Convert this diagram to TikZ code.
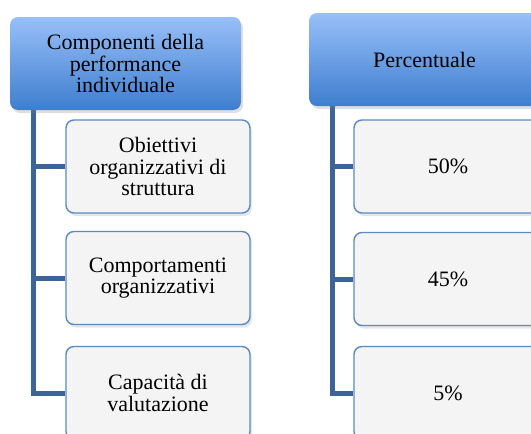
\documentclass[tikz,border=0pt]{standalone}
\usepackage{fontspec}
\setmainfont{Liberation Serif}
\usetikzlibrary{shadows}
\definecolor{headtop}{HTML}{98BFF8}
\definecolor{headbot}{HTML}{3E7ECF}
\definecolor{boxfill}{HTML}{F4F4F4}
\definecolor{boxline}{HTML}{5B89C6}
\definecolor{trunk}{HTML}{3D6498}
\begin{document}
\begin{tikzpicture}[x=1pt,y=-1pt,
  txt/.style={font=\fontsize{22}{21.5}\selectfont, align=center, inner sep=0pt},
  head/.style={txt, rounded corners=8pt, top color=headtop, bottom color=headbot,
    minimum width=231pt, minimum height=93pt,
    drop shadow={opacity=0.25, shadow xshift=2pt, shadow yshift=-3pt}},
  item/.style={txt, rounded corners=8pt, fill=boxfill, draw=boxline, line width=1.4pt,
    minimum height=93pt,
    drop shadow={opacity=0.2, shadow xshift=2pt, shadow yshift=-3pt}},
  link/.style={draw=trunk, line width=5pt}]
  \useasboundingbox (0,0) rectangle (531,434);
  \clip (0,0) rectangle (531,434);
  % left column
  \coordinate (lt) at (33.5,108);
  \coordinate (rt) at (332.5,104);
  \node[item, minimum width=184pt] (ob) at (158,166.5) {Obiettivi\\organizzativi di\\struttura};
  \node[item, minimum width=184pt] (co) at (158,278) {Comportamenti\\organizzativi};
  \node[item, minimum width=184pt] (ca) at (158,393) {Capacità di\\valutazione};
  % right column
  \node[item, minimum width=188pt] (p50) at (448,166.5) {50\%};
  \node[item, minimum width=188pt] (p45) at (448,279) {45\%};
  \node[item, minimum width=188pt] (p5) at (448,393) {5\%};
  \draw [link] (lt) |- (ob.west);
  \draw [link] (lt) |- (co.west);
  \draw [link] (lt) |- (ca.west);
  \draw [link] (rt) |- (p50.west);
  \draw [link] (rt) |- (p45.west);
  \draw [link] (rt) |- (p5.west);
  \node[head] (comp) at (125.5,63.5) {Componenti della\\performance\\individuale};
  \node[head] (perc) at (424.5,59.5) {Percentuale};
\end{tikzpicture}
\end{document}
